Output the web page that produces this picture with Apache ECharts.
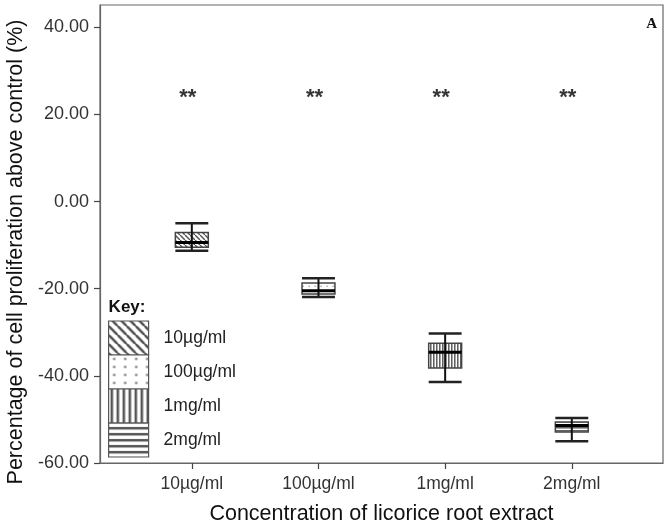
<!DOCTYPE html>
<html>
<head>
<meta charset="utf-8">
<script src="https://cdn.jsdelivr.net/npm/echarts@6/dist/echarts.min.js"></script>
<style>html,body{margin:0;padding:0;background:#fff}#c{width:670px;height:525px}</style>
</head>
<body>
<div id="c"></div>
<script>
// ---- data ----
var categories = ['10µg/ml', '100µg/ml', '1mg/ml', '2mg/ml'];
var whiskerHigh = [-5.0, -17.6, -30.3, -49.7];
var q3 = [-7.1, -18.7, -32.5, -50.6];
var median = [-9.4, -20.5, -34.6, -51.4];
var q1 = [-10.5, -21.2, -38.2, -52.9];
var whiskerLow = [-11.3, -21.9, -41.4, -55.0];
var sigMarks = ['**', '**', '**', '**'];
var sigY = [25, 25, 25, 25];
var yTicks = [-60, -40, -20, 0, 20, 40];
var xTicks = [1, 2, 3, 4];
var keyTitle = 'Key:';
var panelLabel = 'A';

// ---- patterns ----
function makePattern(kind, s) {
  var c = document.createElement('canvas');
  var ctx = c.getContext('2d');
  var w, h;
  if (kind === 'diag') { w = h = 6 * s; }
  else if (kind === 'dots') { w = 7 * s; h = 5 * s; }
  else if (kind === 'vert') { w = 4 * s; h = 4; }
  else { w = 4; h = 4 * s; }
  c.width = w; c.height = h;
  ctx.fillStyle = '#fff'; ctx.fillRect(0, 0, w, h);
  if (kind === 'diag') {
    ctx.strokeStyle = '#555'; ctx.lineWidth = 1.6 * s;
    ctx.beginPath();
    ctx.moveTo(-w, -h); ctx.lineTo(2 * w, 2 * h);
    ctx.moveTo(0, -h); ctx.lineTo(2 * w, h);
    ctx.moveTo(-w, 0); ctx.lineTo(w, 2 * h);
    ctx.stroke();
  } else if (kind === 'dots') {
    ctx.fillStyle = '#999';
    ctx.beginPath(); ctx.arc(w / 2, h / 2, 0.9 * s, 0, Math.PI * 2); ctx.fill();
  } else if (kind === 'vert') {
    ctx.fillStyle = '#555'; ctx.fillRect(w / 2 - 0.8 * s, 0, 1.6 * s, h);
  } else {
    ctx.fillStyle = '#555'; ctx.fillRect(0, h / 2 - 0.8 * s, w, 1.6 * s);
  }
  return { image: c, repeat: 'repeat' };
}
var kinds = ['diag', 'dots', 'vert', 'horiz'];
var boxPatterns = kinds.map(function (k) { return makePattern(k, 0.9); });
var keyPatterns = kinds.map(function (k) { return makePattern(k, 1.6); });

var boxData = categories.map(function (c, i) {
  return [xTicks[i], whiskerLow[i], q1[i], median[i], q3[i], whiskerHigh[i]];
});
var sigData = categories.map(function (c, i) { return [xTicks[i], sigY[i], sigMarks[i]]; });

function renderBox(params, api) {
  var x = api.value(0);
  var pLow = api.coord([x, api.value(1)]);
  var pQ1 = api.coord([x, api.value(2)]);
  var pMed = api.coord([x, api.value(3)]);
  var pQ3 = api.coord([x, api.value(4)]);
  var pHigh = api.coord([x, api.value(5)]);
  var half = api.size([0.26, 0])[0] / 2;
  var cx = pLow[0];
  var lineStyle = { stroke: '#111', lineWidth: 2 };
  return {
    type: 'group',
    children: [
      { type: 'rect', shape: { x: cx - half, y: pQ3[1], width: 2 * half, height: pQ1[1] - pQ3[1] },
        style: { fill: boxPatterns[params.dataIndex], stroke: '#444', lineWidth: 1.5 } },
      { type: 'line', shape: { x1: cx, y1: pHigh[1], x2: cx, y2: pLow[1] }, style: lineStyle },
      { type: 'line', shape: { x1: cx - half, y1: pHigh[1], x2: cx + half, y2: pHigh[1] }, style: { stroke: '#222', lineWidth: 2.5 } },
      { type: 'line', shape: { x1: cx - half, y1: pLow[1], x2: cx + half, y2: pLow[1] }, style: { stroke: '#222', lineWidth: 2.5 } },
      { type: 'line', shape: { x1: cx - half, y1: pMed[1], x2: cx + half, y2: pMed[1] }, style: { stroke: '#000', lineWidth: 3 } }
    ]
  };
}

// legend (key) graphics
var keyChildren = [
  { type: 'text', left: 0, top: 0, style: { text: keyTitle, font: 'bold 17px "Liberation Sans", Arial, sans-serif', fill: '#111' } }
];
categories.forEach(function (c, i) {
  keyChildren.push({ type: 'rect', shape: { x: 0, y: 22 + i * 34, width: 40, height: 34 },
    style: { fill: keyPatterns[i], stroke: '#555', lineWidth: 1.2 } });
  keyChildren.push({ type: 'text', x: 55, y: 39 + i * 34,
    style: { text: c, font: '17.5px "Liberation Sans", Arial, sans-serif', fill: '#222', textVerticalAlign: 'middle' } });
});

var chart = echarts.init(document.getElementById('c'), null, { renderer: 'canvas' });
chart.setOption({
  animation: false,
  backgroundColor: '#fff',
  grid: { left: 100, right: 7, top: 5, bottom: 62, show: true, borderColor: '#666', borderWidth: 1.2,
    containLabel: false, outerBoundsMode: 'none' },
  xAxis: {
    type: 'value', min: 0.275, max: 4.72,
    name: 'Concentration of licorice root extract', nameLocation: 'middle', nameGap: 40,
    nameTextStyle: { fontFamily: 'Liberation Sans', fontSize: 21.5, color: '#111' },
    splitLine: { show: false },
    axisLine: { show: true, onZero: false, lineStyle: { color: '#666', width: 1.2 } },
    axisTick: { show: true, length: 6, customValues: xTicks, lineStyle: { color: '#444', width: 1.2 } },
    axisLabel: { customValues: xTicks, margin: 12, fontFamily: 'Liberation Sans', fontSize: 17.5, color: '#333',
      formatter: function (v) { return categories[Math.round(v) - 1] || ''; } }
  },
  yAxis: {
    type: 'value', min: -60, max: 45.1,
    name: 'Percentage of cell proliferation above control (%)', nameLocation: 'middle', nameGap: 72,
    nameTextStyle: { fontFamily: 'Liberation Sans', fontSize: 21.5, color: '#111', padding: [0, 36, 0, 0] },
    splitLine: { show: false },
    axisLine: { show: true, onZero: false, lineStyle: { color: '#666', width: 1.2 } },
    axisTick: { show: true, length: 6, customValues: yTicks, lineStyle: { color: '#444', width: 1.2 } },
    axisLabel: { customValues: yTicks, margin: 11, fontFamily: 'Liberation Sans', fontSize: 18, color: '#333',
      formatter: function (v) { return v.toFixed(2); } }
  },
  series: [
    { type: 'custom', renderItem: renderBox, data: boxData, clip: false, z: 3 },
    { type: 'scatter', data: sigData, symbolSize: 0, z: 4,
      label: { show: true, position: 'inside', formatter: function (p) { return p.value[2]; },
        fontFamily: 'Liberation Sans', fontSize: 22, fontWeight: 'bold', color: '#000', offset: [-4, 5] } }
  ],
  graphic: [
    { type: 'group', left: 108, top: 299, children: keyChildren },
    { type: 'text', right: 13, top: 17, style: { text: panelLabel, font: 'bold 15px "Liberation Serif", serif', fill: '#111' } }
  ]
});
</script>
</body>
</html>
